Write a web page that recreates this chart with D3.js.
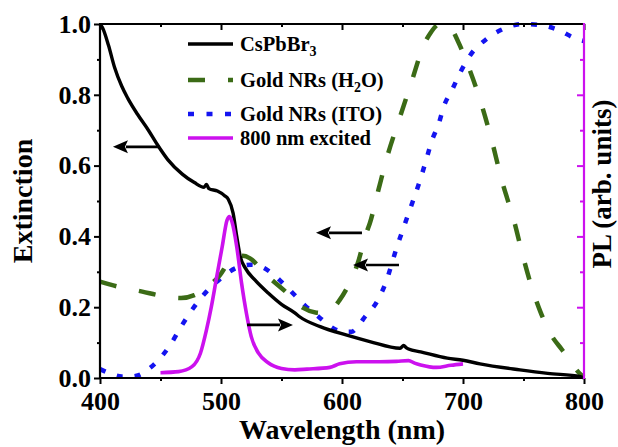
<!DOCTYPE html>
<html><head><meta charset="utf-8">
<script src="https://cdn.jsdelivr.net/npm/d3@7"></script>
<style>
body{margin:0;background:#fff}
svg{display:block}
text{font-family:"Liberation Serif","Times New Roman",serif;font-weight:bold;fill:#000}
</style>
</head><body>
<svg id="c" width="618" height="447"></svg>
<script>
// ---------- data ----------
const csWl  = [400,402,407,412,418,423,431,440,448,456,468,478,486,488,490,497,503,506,510,513,516,520,528,539,550,561,565,582,604,623,648,651,653,655,665,687,700,714,747,770,797,800];
const csVal = [1.0,0.99,0.94,0.878,0.824,0.79,0.745,0.70,0.656,0.617,0.576,0.552,0.539,0.547,0.535,0.528,0.515,0.505,0.466,0.40,0.342,0.311,0.277,0.240,0.208,0.184,0.173,0.145,0.121,0.103,0.084,0.092,0.086,0.082,0.074,0.056,0.050,0.040,0.023,0.013,0.004,0.0];

const h2oWl  = [400,415,435,451,467,478,489,499,506,512,518,524,536,555,568,578,587,598,605,613,620,623,630,637,648,658,667,673,681,689,696,704,715,724,732,742,750,756,764,773,782,790,797,800];
const h2oVal = [0.272,0.258,0.244,0.232,0.226,0.234,0.258,0.29,0.325,0.342,0.345,0.338,0.296,0.239,0.198,0.185,0.183,0.22,0.26,0.324,0.409,0.437,0.53,0.621,0.738,0.842,0.936,0.974,1.0,0.992,0.95,0.884,0.776,0.668,0.559,0.446,0.338,0.265,0.187,0.121,0.079,0.04,0.011,0.003];

const itoWl  = [400,409,418,425,432,440,447,458,467,477,488,500,512,525,533,542,555,569,582,593,601,608,614,619,629,636,645,655,665,670,674,680,684,691,698,706,720,734,749,764,779,793,800];
const itoVal = [0.025,0.012,0.004,0.004,0.008,0.025,0.046,0.093,0.145,0.197,0.244,0.282,0.31,0.32,0.315,0.296,0.255,0.206,0.169,0.14,0.131,0.131,0.15,0.173,0.216,0.268,0.366,0.465,0.564,0.621,0.668,0.719,0.766,0.814,0.865,0.912,0.959,0.987,1.0,0.997,0.983,0.959,0.952];

const plWl  = [450,465,476,483,488,492,496,501,505,507,509,513,517,521,525,531,539,550,561,571,590,598,612,631,645,655,660,665,678,690,700];
const plVal = [0.015,0.018,0.032,0.07,0.136,0.201,0.277,0.371,0.446,0.456,0.442,0.371,0.268,0.183,0.117,0.07,0.043,0.027,0.023,0.025,0.030,0.040,0.046,0.046,0.047,0.049,0.042,0.037,0.030,0.036,0.040];

const xTicks = [400,500,600,700,800];
const yTicks = [0.0,0.2,0.4,0.6,0.8,1.0];
const legendLabels = ["CsPbBr","Gold NRs (H","Gold NRs (ITO)","800 nm excited"];
// arrows: [fromWl, toWl, value]
const arrowFrom = [449.6,521.5,616.5,647.1];
const arrowTo   = [410.7,559.5,578.5,609.1];
const arrowVal  = [0.653,0.15,0.41,0.319];

// ---------- drawing ----------
const svg = d3.select("#c");
const L=100,R=584,T=24,B=378;
const x = d3.scaleLinear().domain([400,800]).range([L,R]);
const y = d3.scaleLinear().domain([0,1]).range([B,T]);
const yPL = d3.scaleLinear().domain([0,1]).range([B,T]);

const cBlack="#000", cGreen="#3b6b16", cBlue="#1414f0", cMag="#cc11ee";

const line = (ys)=>d3.line().x(d=>x(d[0])).y(d=>ys(d[1])).curve(d3.curveMonotoneX);
const zip=(a,b)=>a.map((v,i)=>[v,b[i]]);

const plot = svg.append("g");
plot.append("path").datum(zip(itoWl,itoVal)).attr("d",line(y))
  .attr("fill","none").attr("stroke",cBlue).attr("stroke-width",4.5).attr("stroke-dasharray","6,12");
plot.append("path").datum(zip(h2oWl,h2oVal)).attr("d",line(y))
  .attr("fill","none").attr("stroke",cGreen).attr("stroke-width",4.5).attr("stroke-dasharray","17,23");
plot.append("path").datum(zip(csWl,csVal)).attr("d",line(y))
  .attr("fill","none").attr("stroke",cBlack).attr("stroke-width",3.4).attr("stroke-linejoin","round");
plot.append("path").datum(zip(plWl,plVal)).attr("d",line(yPL))
  .attr("fill","none").attr("stroke",cMag).attr("stroke-width",3.6).attr("stroke-linejoin","round");

// arrows
arrowVal.forEach((v,i)=>{
  const x0=x(arrowFrom[i]), x1=x(arrowTo[i]), yy=y(v);
  const dir = Math.sign(x1-x0);
  const hl=15, hw=6.5;
  svg.append("line").attr("x1",x0).attr("x2",x1-dir*hl+dir*2).attr("y1",yy).attr("y2",yy)
    .attr("stroke","#000").attr("stroke-width",2.6);
  svg.append("path").attr("d",`M${x1},${yy}L${x1-dir*hl},${yy-hw}L${x1-dir*hl+dir*3},${yy}L${x1-dir*hl},${yy+hw}Z`)
    .attr("fill","#000");
});

// axes
const fs = 26;
svg.append("g").attr("transform",`translate(${L},0)`)
  .call(d3.axisLeft(y).tickValues(yTicks).tickFormat(d3.format(".1f")).tickSize(6).tickPadding(3).tickSizeOuter(0));
svg.append("g").attr("transform",`translate(${L},0)`)
  .call(d3.axisLeft(y).tickValues([0.1,0.3,0.5,0.7,0.9]).tickFormat("").tickSize(3).tickSizeOuter(0));
svg.append("g").attr("transform",`translate(0,${B})`)
  .call(d3.axisBottom(x).tickValues(xTicks).tickFormat(d3.format("d")).tickSize(6).tickPadding(8).tickSizeOuter(0));
svg.append("g").attr("transform",`translate(0,${B})`)
  .call(d3.axisBottom(x).tickValues([450,550,650,750]).tickFormat("").tickSize(3).tickSizeOuter(0));
svg.append("g").attr("transform",`translate(0,${T})`)
  .call(d3.axisBottom(x).tickValues(xTicks).tickFormat("").tickSize(6).tickSizeOuter(0));
svg.append("g").attr("transform",`translate(0,${T})`)
  .call(d3.axisBottom(x).tickValues([450,550,650,750]).tickFormat("").tickSize(3).tickSizeOuter(0));
const gR1 = svg.append("g").attr("transform",`translate(${R},0)`)
  .call(d3.axisLeft(yPL).tickValues([0.2,0.4,0.6,0.8]).tickFormat("").tickSize(7).tickSizeOuter(0));
const gR2 = svg.append("g").attr("transform",`translate(${R},0)`)
  .call(d3.axisLeft(yPL).tickValues([0.1,0.3,0.5,0.7,0.9]).tickFormat("").tickSize(4).tickSizeOuter(0));

svg.selectAll(".domain").remove();
svg.selectAll(".tick line").attr("stroke","#000").attr("stroke-width",2);
gR1.selectAll(".tick line").attr("stroke",cMag);
gR2.selectAll(".tick line").attr("stroke",cMag);
svg.selectAll(".tick text").style("font-family",'"Liberation Serif","Times New Roman",serif')
  .style("font-weight","bold").attr("font-size",fs).attr("fill","#000");

// frame
svg.append("line").attr("x1",L).attr("x2",L).attr("y1",T).attr("y2",B+1).attr("stroke","#000").attr("stroke-width",2.2);
svg.append("line").attr("x1",L-1).attr("x2",R).attr("y1",B).attr("y2",B).attr("stroke","#000").attr("stroke-width",2.2);
svg.append("line").attr("x1",L-1).attr("x2",R).attr("y1",T).attr("y2",T).attr("stroke","#000").attr("stroke-width",2.2);
svg.append("line").attr("x1",R).attr("x2",R).attr("y1",T-1).attr("y2",B+1).attr("stroke",cMag).attr("stroke-width",2.2);

// axis titles
svg.append("text").attr("x",(L+R)/2).attr("y",439).attr("text-anchor","middle").attr("font-size",28).text("Wavelength (nm)");
svg.append("text").attr("transform",`translate(32,${(T+B)/2}) rotate(-90)`).attr("text-anchor","middle").attr("font-size",28).text("Extinction");
svg.append("text").attr("transform",`translate(611,184) rotate(-90)`).attr("text-anchor","middle").attr("font-size",27).text("PL (arb. units)");

// legend
const lg = svg.append("g");
const lgY=[44,80,114,138];
const lgCol=[cBlack,cGreen,cBlue,cMag];
const lgDash=[null,"17,23","6,12.5",null];
const lgW=[3.4,4.5,4.5,3.6];
lgY.forEach((yy,i)=>{
  lg.append("line").attr("x1",188).attr("x2",233).attr("y1",yy).attr("y2",yy)
    .attr("stroke",lgCol[i]).attr("stroke-width",lgW[i]).attr("stroke-dasharray",lgDash[i]);
  const t = lg.append("text").attr("x",240).attr("y",yy+7).attr("font-size",20.5);
  t.append("tspan").text(legendLabels[i]);
  if(i===0){ t.append("tspan").attr("font-size",14).attr("dy",5).text("3"); }
  if(i===1){ t.append("tspan").attr("font-size",14).attr("dy",5).text("2");
             t.append("tspan").attr("dy",-5).text("O)"); }
});
</script>
</body></html>
